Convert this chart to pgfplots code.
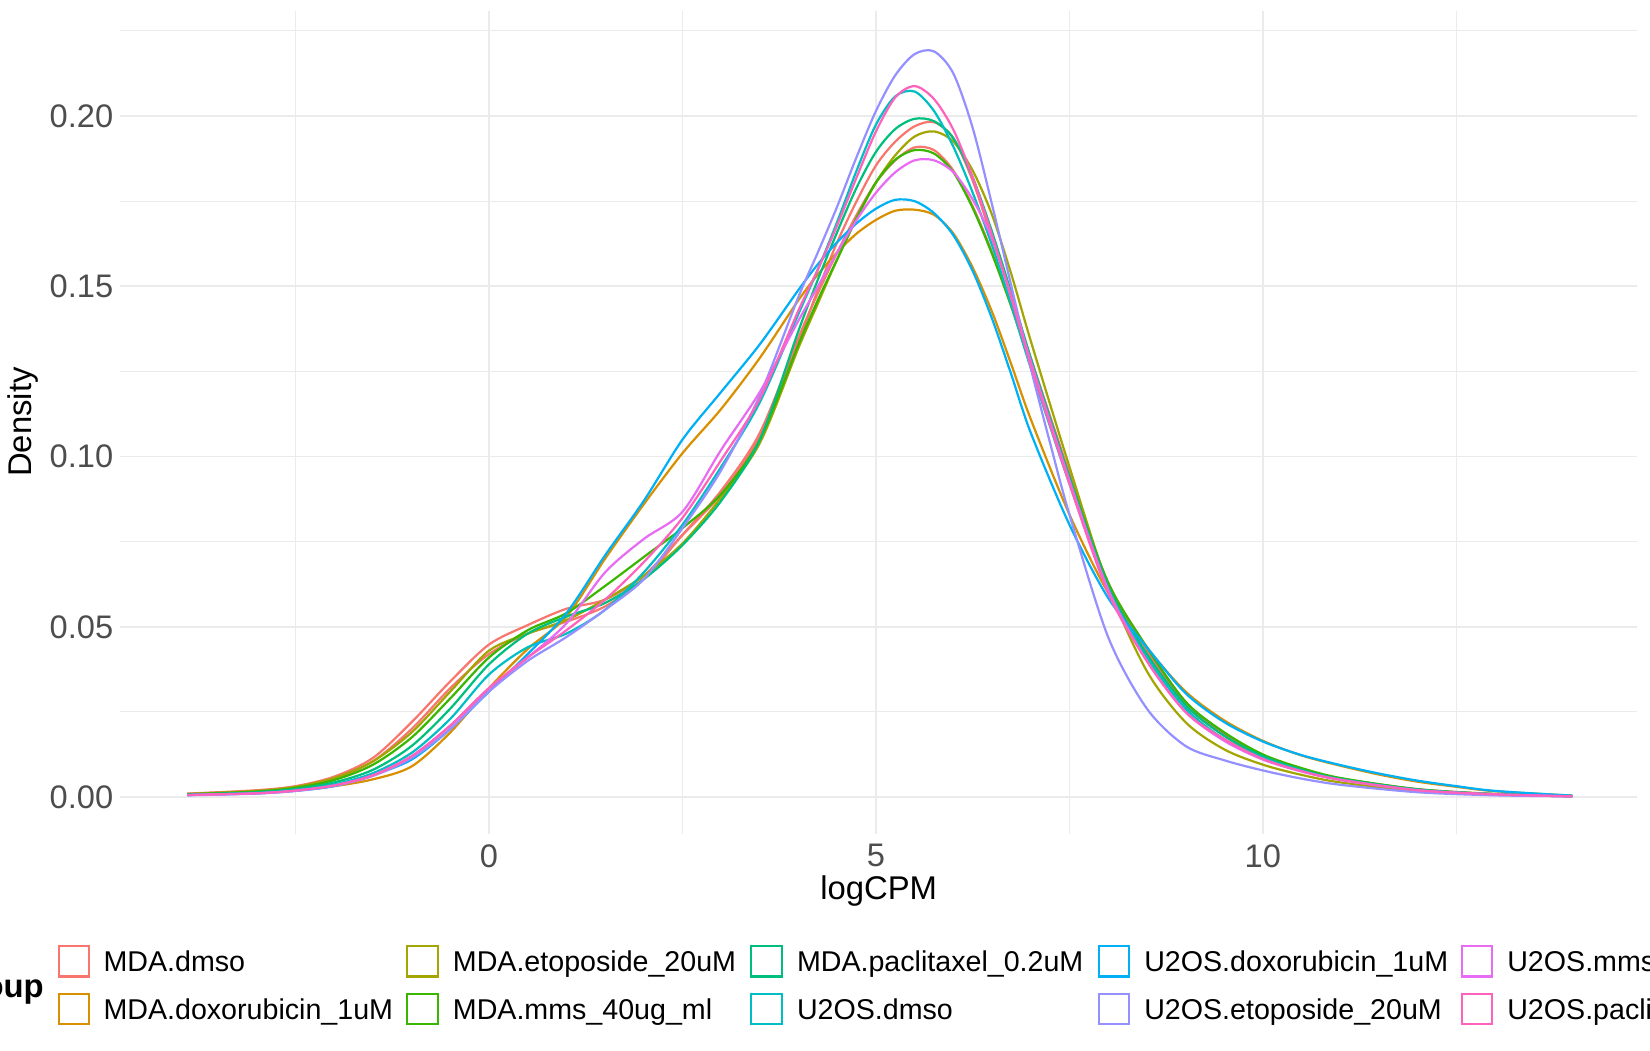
\documentclass[border=0pt]{standalone}
\usepackage{pgfplots}
\pgfplotsset{compat=1.18}
\usepackage{fontspec}
\setmainfont{Liberation Sans}
\definecolor{cA}{HTML}{F8766D}
\definecolor{cB}{HTML}{D89000}
\definecolor{cC}{HTML}{A3A500}
\definecolor{cD}{HTML}{39B600}
\definecolor{cE}{HTML}{00BF7D}
\definecolor{cF}{HTML}{00BFC4}
\definecolor{cG}{HTML}{00B0F6}
\definecolor{cH}{HTML}{9590FF}
\definecolor{cI}{HTML}{E76BF3}
\definecolor{cJ}{HTML}{FF62BC}
\definecolor{gridc}{HTML}{EBEBEB}
\definecolor{ticktxt}{HTML}{4D4D4D}
\begin{document}
\begin{tikzpicture}
\useasboundingbox (0,0) rectangle (784pt,499pt);
\clip (0,0) rectangle (784pt,499pt);
\begin{axis}[
  at={(57pt,102.5pt)}, anchor=south west,
  scale only axis, width=721pt, height=391.5pt,
  xmin=-4.77, xmax=14.84, ymin=-0.011, ymax=0.231,
  axis line style={draw=none},
  xtick={0,5,10}, minor xtick={-2.5,2.5,7.5,12.5},
  ytick={0,0.05,0.1,0.15,0.2}, minor ytick={0.025,0.075,0.125,0.175,0.225},
  major tick length=0pt, minor tick length=0pt,
  tick style={draw=none},
  grid=both,
  major grid style={draw=gridc, line width=0.8pt},
  minor grid style={draw=gridc, line width=0.45pt},
  /pgf/number format/assume math mode=true,
  tick label style={font=\fontsize{15.5}{18}\selectfont, text=ticktxt},
  yticklabel style={/pgf/number format/fixed, /pgf/number format/fixed zerofill, /pgf/number format/precision=2, inner sep=0pt, xshift=-3pt},
  xticklabel style={inner sep=0pt, yshift=-4.5pt},
  every axis plot/.append style={line width=1.05pt, smooth, no markers},
]
% MDA.dmso (a)
\addplot[cA] table[row sep=\\] {x y\\
-3.9 0.0010\\ -3.0 0.0020\\ -2.5 0.0032\\ -2.0 0.0060\\ -1.5 0.0115\\ -1.0 0.0220\\ -0.5 0.0340\\ 0.0 0.0448\\ 0.5 0.0505\\ 1.0 0.0553\\ 1.5 0.0580\\ 2.0 0.0650\\ 2.5 0.0770\\ 3.0 0.0890\\ 3.5 0.1060\\ 4.0 0.1340\\ 4.25 0.1490\\ 4.5 0.1630\\ 4.75 0.1750\\ 5.0 0.1855\\ 5.25 0.1925\\ 5.5 0.1970\\ 5.75 0.1982\\ 6.0 0.1935\\ 6.25 0.1810\\ 6.5 0.1640\\ 6.75 0.1470\\ 7.0 0.1290\\ 7.5 0.0950\\ 8.0 0.0620\\ 8.5 0.0430\\ 9.0 0.0270\\ 9.5 0.0180\\ 10.0 0.0115\\ 10.5 0.0078\\ 11.0 0.0052\\ 12.0 0.0022\\ 13.0 0.0008\\ 14.0 0.0003\\
};
% MDA.dmso (b)
\addplot[cA] table[row sep=\\] {x y\\
-3.9 0.0009\\ -3.0 0.0018\\ -2.5 0.0030\\ -2.0 0.0055\\ -1.5 0.0105\\ -1.0 0.0200\\ -0.5 0.0320\\ 0.0 0.0420\\ 0.5 0.0480\\ 1.0 0.0515\\ 1.5 0.0560\\ 2.0 0.0640\\ 2.5 0.0770\\ 3.0 0.0900\\ 3.5 0.1070\\ 4.0 0.1350\\ 4.25 0.1480\\ 4.5 0.1600\\ 4.75 0.1710\\ 5.0 0.1805\\ 5.25 0.1870\\ 5.5 0.1908\\ 5.75 0.1900\\ 6.0 0.1840\\ 6.25 0.1735\\ 6.5 0.1600\\ 6.75 0.1440\\ 7.0 0.1270\\ 7.5 0.0940\\ 8.0 0.0630\\ 8.5 0.0440\\ 9.0 0.0280\\ 9.5 0.0185\\ 10.0 0.0120\\ 10.5 0.0080\\ 11.0 0.0054\\ 12.0 0.0023\\ 13.0 0.0009\\ 14.0 0.0003\\
};
% MDA.doxorubicin_1uM
\addplot[cB] table[row sep=\\] {x y\\
-3.9 0.0008\\ -3.0 0.0013\\ -2.5 0.0020\\ -2.0 0.0032\\ -1.5 0.0052\\ -1.0 0.0090\\ -0.5 0.0190\\ 0.0 0.0320\\ 0.5 0.0435\\ 1.0 0.0530\\ 1.5 0.0700\\ 2.0 0.0860\\ 2.5 0.1010\\ 3.0 0.1140\\ 3.5 0.1290\\ 4.0 0.1460\\ 4.25 0.1535\\ 4.5 0.1600\\ 4.75 0.1655\\ 5.0 0.1695\\ 5.25 0.1722\\ 5.5 0.1725\\ 5.75 0.1710\\ 6.0 0.1655\\ 6.25 0.1555\\ 6.5 0.1425\\ 6.75 0.1270\\ 7.0 0.1110\\ 7.5 0.0830\\ 8.0 0.0600\\ 8.5 0.0440\\ 9.0 0.0310\\ 9.5 0.0225\\ 10.0 0.0165\\ 10.5 0.0122\\ 11.0 0.0092\\ 11.5 0.0066\\ 12.0 0.0045\\ 12.5 0.0030\\ 13.0 0.0017\\ 14.0 0.0004\\
};
% MDA.etoposide_20uM
\addplot[cC] table[row sep=\\] {x y\\
-3.9 0.0009\\ -3.0 0.0018\\ -2.5 0.0030\\ -2.0 0.0056\\ -1.5 0.0105\\ -1.0 0.0190\\ -0.5 0.0310\\ 0.0 0.0430\\ 0.5 0.0480\\ 1.0 0.0520\\ 1.5 0.0580\\ 2.0 0.0650\\ 2.5 0.0745\\ 3.0 0.0880\\ 3.5 0.1040\\ 4.0 0.1320\\ 4.25 0.1450\\ 4.5 0.1580\\ 4.75 0.1700\\ 5.0 0.1805\\ 5.25 0.1885\\ 5.5 0.1940\\ 5.75 0.1955\\ 6.0 0.1925\\ 6.25 0.1840\\ 6.5 0.1710\\ 6.75 0.1535\\ 7.0 0.1340\\ 7.5 0.0970\\ 8.0 0.0620\\ 8.5 0.0370\\ 9.0 0.0220\\ 9.5 0.0140\\ 10.0 0.0095\\ 10.5 0.0065\\ 11.0 0.0043\\ 12.0 0.0017\\ 13.0 0.0007\\ 14.0 0.0002\\
};
% MDA.mms_40ug_ml
\addplot[cD] table[row sep=\\] {x y\\
-3.9 0.0008\\ -3.0 0.0016\\ -2.5 0.0027\\ -2.0 0.0050\\ -1.5 0.0095\\ -1.0 0.0175\\ -0.5 0.0290\\ 0.0 0.0410\\ 0.5 0.0490\\ 1.0 0.0540\\ 1.5 0.0620\\ 2.0 0.0705\\ 2.5 0.0790\\ 3.0 0.0890\\ 3.5 0.1050\\ 4.0 0.1330\\ 4.25 0.1460\\ 4.5 0.1580\\ 4.75 0.1700\\ 5.0 0.1805\\ 5.25 0.1872\\ 5.5 0.1900\\ 5.75 0.1890\\ 6.0 0.1835\\ 6.25 0.1730\\ 6.5 0.1595\\ 6.75 0.1440\\ 7.0 0.1270\\ 7.5 0.0940\\ 8.0 0.0630\\ 8.5 0.0440\\ 9.0 0.0280\\ 9.5 0.0190\\ 10.0 0.0125\\ 10.5 0.0085\\ 11.0 0.0056\\ 12.0 0.0023\\ 13.0 0.0009\\ 14.0 0.0003\\
};
% MDA.paclitaxel_0.2uM
\addplot[cE] table[row sep=\\] {x y\\
-3.9 0.0007\\ -3.0 0.0014\\ -2.5 0.0024\\ -2.0 0.0043\\ -1.5 0.0080\\ -1.0 0.0150\\ -0.5 0.0260\\ 0.0 0.0390\\ 0.5 0.0480\\ 1.0 0.0530\\ 1.5 0.0570\\ 2.0 0.0640\\ 2.5 0.0740\\ 3.0 0.0870\\ 3.5 0.1050\\ 4.0 0.1370\\ 4.25 0.1520\\ 4.5 0.1660\\ 4.75 0.1790\\ 5.0 0.1895\\ 5.25 0.1962\\ 5.5 0.1992\\ 5.75 0.1985\\ 6.0 0.1935\\ 6.25 0.1820\\ 6.5 0.1660\\ 6.75 0.1480\\ 7.0 0.1290\\ 7.5 0.0940\\ 8.0 0.0620\\ 8.5 0.0420\\ 9.0 0.0270\\ 9.5 0.0180\\ 10.0 0.0120\\ 10.5 0.0080\\ 11.0 0.0053\\ 12.0 0.0022\\ 13.0 0.0008\\ 14.0 0.0003\\
};
% U2OS.dmso
\addplot[cF] table[row sep=\\] {x y\\
-3.9 0.0006\\ -3.0 0.0012\\ -2.5 0.0020\\ -2.0 0.0037\\ -1.5 0.0070\\ -1.0 0.0130\\ -0.5 0.0230\\ 0.0 0.0360\\ 0.5 0.0440\\ 1.0 0.0480\\ 1.5 0.0550\\ 2.0 0.0660\\ 2.5 0.0800\\ 3.0 0.0970\\ 3.5 0.1160\\ 4.0 0.1420\\ 4.25 0.1550\\ 4.5 0.1690\\ 4.75 0.1840\\ 5.0 0.1975\\ 5.25 0.2058\\ 5.5 0.2072\\ 5.75 0.2015\\ 6.0 0.1910\\ 6.25 0.1775\\ 6.5 0.1620\\ 6.75 0.1445\\ 7.0 0.1260\\ 7.5 0.0920\\ 8.0 0.0610\\ 8.5 0.0410\\ 9.0 0.0260\\ 9.5 0.0170\\ 10.0 0.0115\\ 10.5 0.0078\\ 11.0 0.0052\\ 12.0 0.0021\\ 13.0 0.0008\\ 14.0 0.0002\\
};
% U2OS.doxorubicin_1uM
\addplot[cG] table[row sep=\\] {x y\\
-3.9 0.0006\\ -3.0 0.0011\\ -2.5 0.0018\\ -2.0 0.0032\\ -1.5 0.0065\\ -1.0 0.0110\\ -0.5 0.0200\\ 0.0 0.0310\\ 0.5 0.0420\\ 1.0 0.0540\\ 1.5 0.0710\\ 2.0 0.0870\\ 2.5 0.1050\\ 3.0 0.1190\\ 3.5 0.1330\\ 4.0 0.1490\\ 4.25 0.1565\\ 4.5 0.1630\\ 4.75 0.1685\\ 5.0 0.1728\\ 5.25 0.1754\\ 5.5 0.1750\\ 5.75 0.1715\\ 6.0 0.1650\\ 6.25 0.1545\\ 6.5 0.1405\\ 6.75 0.1240\\ 7.0 0.1070\\ 7.5 0.0800\\ 8.0 0.0585\\ 8.5 0.0440\\ 9.0 0.0305\\ 9.5 0.0220\\ 10.0 0.0163\\ 10.5 0.0123\\ 11.0 0.0094\\ 11.5 0.0069\\ 12.0 0.0048\\ 12.5 0.0032\\ 13.0 0.0018\\ 14.0 0.0004\\
};
% U2OS.etoposide_20uM
\addplot[cH] table[row sep=\\] {x y\\
-3.9 0.0005\\ -3.0 0.0010\\ -2.5 0.0018\\ -2.0 0.0033\\ -1.5 0.0062\\ -1.0 0.0115\\ -0.5 0.0200\\ 0.0 0.0310\\ 0.5 0.0400\\ 1.0 0.0470\\ 1.5 0.0550\\ 2.0 0.0640\\ 2.5 0.0790\\ 3.0 0.0960\\ 3.5 0.1180\\ 4.0 0.1470\\ 4.25 0.1600\\ 4.5 0.1735\\ 4.75 0.1880\\ 5.0 0.2015\\ 5.25 0.2120\\ 5.5 0.2182\\ 5.75 0.2190\\ 6.0 0.2125\\ 6.25 0.1965\\ 6.5 0.1740\\ 6.75 0.1500\\ 7.0 0.1260\\ 7.25 0.1040\\ 7.5 0.0830\\ 8.0 0.0470\\ 8.5 0.0260\\ 9.0 0.0150\\ 9.5 0.0108\\ 10.0 0.0078\\ 10.5 0.0054\\ 11.0 0.0036\\ 12.0 0.0014\\ 13.0 0.0005\\ 14.0 0.0002\\
};
% U2OS.mms_40ug_ml
\addplot[cI] table[row sep=\\] {x y\\
-3.9 0.0006\\ -3.0 0.0011\\ -2.5 0.0019\\ -2.0 0.0034\\ -1.5 0.0064\\ -1.0 0.0120\\ -0.5 0.0210\\ 0.0 0.0320\\ 0.5 0.0410\\ 1.0 0.0510\\ 1.5 0.0660\\ 2.0 0.0758\\ 2.5 0.0838\\ 3.0 0.1020\\ 3.5 0.1190\\ 4.0 0.1400\\ 4.25 0.1500\\ 4.5 0.1600\\ 4.75 0.1695\\ 5.0 0.1775\\ 5.25 0.1835\\ 5.5 0.1870\\ 5.75 0.1870\\ 6.0 0.1835\\ 6.25 0.1755\\ 6.5 0.1640\\ 6.75 0.1470\\ 7.0 0.1280\\ 7.5 0.0930\\ 8.0 0.0610\\ 8.5 0.0400\\ 9.0 0.0250\\ 9.5 0.0165\\ 10.0 0.0110\\ 10.5 0.0075\\ 11.0 0.0050\\ 12.0 0.0020\\ 13.0 0.0008\\ 14.0 0.0002\\
};
% U2OS.paclitaxel_0.2uM
\addplot[cJ] table[row sep=\\] {x y\\
-3.9 0.0006\\ -3.0 0.0011\\ -2.5 0.0019\\ -2.0 0.0034\\ -1.5 0.0064\\ -1.0 0.0120\\ -0.5 0.0210\\ 0.0 0.0320\\ 0.5 0.0410\\ 1.0 0.0490\\ 1.5 0.0580\\ 2.0 0.0690\\ 2.5 0.0820\\ 3.0 0.0990\\ 3.5 0.1170\\ 4.0 0.1430\\ 4.25 0.1550\\ 4.5 0.1680\\ 4.75 0.1820\\ 5.0 0.1955\\ 5.25 0.2055\\ 5.5 0.2088\\ 5.75 0.2050\\ 6.0 0.1960\\ 6.25 0.1820\\ 6.5 0.1650\\ 6.75 0.1465\\ 7.0 0.1270\\ 7.5 0.0920\\ 8.0 0.0600\\ 8.5 0.0400\\ 9.0 0.0250\\ 9.5 0.0170\\ 10.0 0.0112\\ 10.5 0.0076\\ 11.0 0.0051\\ 12.0 0.0020\\ 13.0 0.0008\\ 14.0 0.0002\\
};
\end{axis}
% axis titles
\node[font=\fontsize{15.6}{18}\selectfont] at (417.5pt,75.5pt) {logCPM};
\node[font=\fontsize{15.6}{18}\selectfont, rotate=90] at (11pt,298.5pt) {Density};
% legend
\node[font=\fontsize{15.6}{18}\selectfont\bfseries, anchor=base east, inner sep=0pt] at (21pt,25.1pt) {group};
\foreach \kx/\tx/\yc/\col/\lab in {
  27.5/49/42.25/cA/MDA.dmso,
  27.5/49/19.5/cB/MDA.doxorubicin\_1uM,
  193/215/42.25/cC/MDA.etoposide\_20uM,
  193/215/19.5/cD/MDA.mms\_40ug\_ml,
  356.5/378.5/42.25/cE/MDA.paclitaxel\_0.2uM,
  356.5/378.5/19.5/cF/U2OS.dmso,
  521.5/543.5/42.25/cG/U2OS.doxorubicin\_1uM,
  521.5/543.5/19.5/cH/U2OS.etoposide\_20uM,
  694/716/42.25/cI/U2OS.mms\_40ug\_ml,
  694/716/19.5/cJ/U2OS.paclitaxel\_0.2uM}{
  \draw[draw=\col, line width=1pt, fill=white] (\kx pt+0.5pt,\yc pt-7.25pt) rectangle (\kx pt+15pt,\yc pt+7.25pt);
  \node[font=\fontsize{13.6}{16}\selectfont, anchor=base west, inner sep=0pt] at (\tx pt,\yc pt-4.9pt) {\lab};
}
\end{tikzpicture}
\end{document}
